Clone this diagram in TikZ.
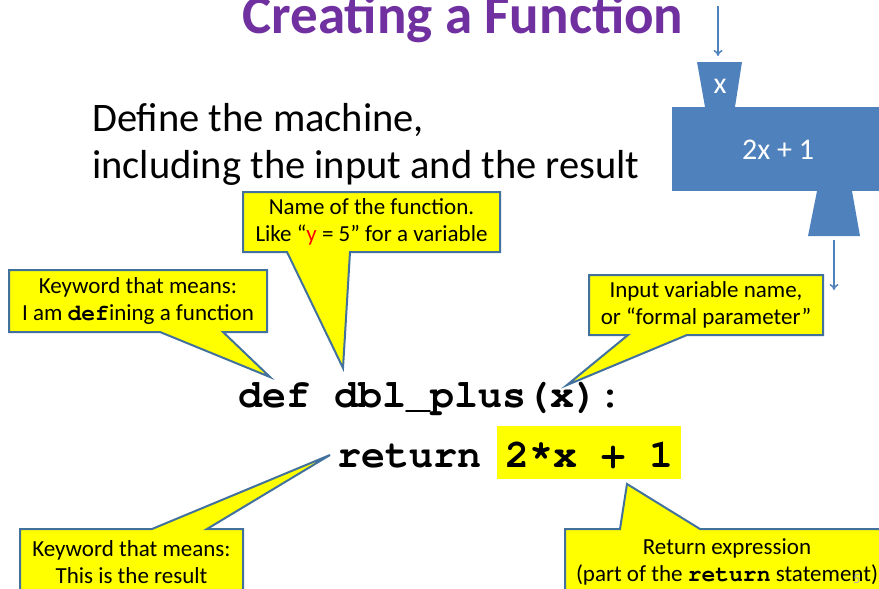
\documentclass[tikz,border=0pt]{standalone}
\usepackage{fontspec}
\setmainfont{Carlito}
\setmonofont{TeX Gyre Cursor}
\usetikzlibrary{calc, arrows.meta}
\definecolor{titlepurple}{HTML}{7030A0}
\definecolor{machineblue}{HTML}{4F81BD}
\definecolor{calloutblue}{HTML}{41719C}
\definecolor{calloutyellow}{HTML}{FFFF00}
\tikzset{
    callout/.style={fill=calloutyellow, draw=calloutblue, line width=2pt, line join=miter},
    calltext/.style={align=center, inner sep=0pt, font=\fontsize{23}{27}\selectfont},
    code/.style={inner sep=0pt, font=\fontsize{40}{44}\selectfont\ttfamily\bfseries},
    flow/.style={draw=machineblue, line width=1.5pt, -{To[length=6pt, width=9pt]}}
}

\begin{document}
\begin{tikzpicture}[x=1pt, y=-1pt]
\useasboundingbox (0,0) rectangle (879,589);

% Titel
\node[anchor=base, inner sep=0pt, text=titlepurple, font=\fontsize{55}{60}\selectfont\bfseries] (title) at (463,33) {Creating a Function};

% Text
\node[anchor=base west, inner sep=0pt, font=\fontsize{40.5}{48}\selectfont] (introA) at (92,131) {Define the machine,};
\node[anchor=base west, inner sep=0pt, font=\fontsize{40.5}{48}\selectfont] (introB) at (92,178) {including the input and the result};

% Maschine
\fill[machineblue] (697,62) -- (742,62) -- (735,107) -- (705,107) -- cycle;
\fill[machineblue] (672,107) rectangle (884,191);
\fill[machineblue] (817,191) -- (852,191) -- (860,236) -- (808,236) -- cycle;
\node[text=white, font=\fontsize{30}{34}\selectfont] (inLabel) at (720,86) {x};
\node[text=white, font=\fontsize{30}{34}\selectfont] (body) at (778,150) {2x + 1};

\coordinate (inStart) at (718,6);
\coordinate (inEnd) at (718,56);
\draw[flow] (inStart) -- (inEnd);
\coordinate (outStart) at (834,240);
\coordinate (outEnd) at (834,290);
\draw[flow] (outStart) -- (outEnd);

% Code
\node[code, anchor=base west] (defLine) at (238,407) {def dbl\_plus(x):};
\node[code, anchor=base west] (retKw) at (337,467) {return};
\node[code, anchor=base west, fill=calloutyellow, inner xsep=8pt, text height=41pt, text depth=12pt] (retExpr) at (497,467) {2*x + 1};

% Sprechblasen
\coordinate (nameTip) at (343,368);
\draw[callout] (243,192) -- (500,192) -- (500,252) -- (350,252) -- (nameTip) -- (287,252) -- (243,252) -- cycle;
\node[calltext] (nameNote) at (371.5,222) {Name of the function.\\Like “{\color{red}y} = 5” for a variable};

\coordinate (defTip) at (270,377);
\draw[callout] (9,270) -- (267,270) -- (267,332) -- (223,332) -- (defTip) -- (160,332) -- (9,332) -- cycle;
\node[calltext] (defNote) at (138,301) {Keyword that means:\\I am \texttt{\bfseries def}ining a function};

\coordinate (argTip) at (567,385);
\draw[callout] (589,275) -- (823,275) -- (823,335) -- (687,335) -- (argTip) -- (628,335) -- (589,335) -- cycle;
\node[calltext] (argNote) at (706,305) {Input variable name,\\or “formal parameter”};

\coordinate (retTip) at (330,455);
\draw[callout] (20,529) -- (152,529) -- (retTip) -- (207,529) -- (243,529) -- (243,600) -- (20,600) -- cycle;
\node[calltext] (retNote) at (131.5,562) {Keyword that means:\\This is the result};

\coordinate (exprTip) at (627,484);
\draw[callout] (565,529) -- (620,529) -- (exprTip) -- (700,529) -- (890,529) -- (890,600) -- (565,600) -- cycle;
\node[calltext] (exprNote) at (727,562) {Return expression\\(part of the \texttt{\bfseries return} statement)};

% Foliennummer
\node[text=gray!60, font=\fontsize{14}{16}\selectfont] (slideNo) at (857,579) {5};
\end{tikzpicture}
\end{document}
